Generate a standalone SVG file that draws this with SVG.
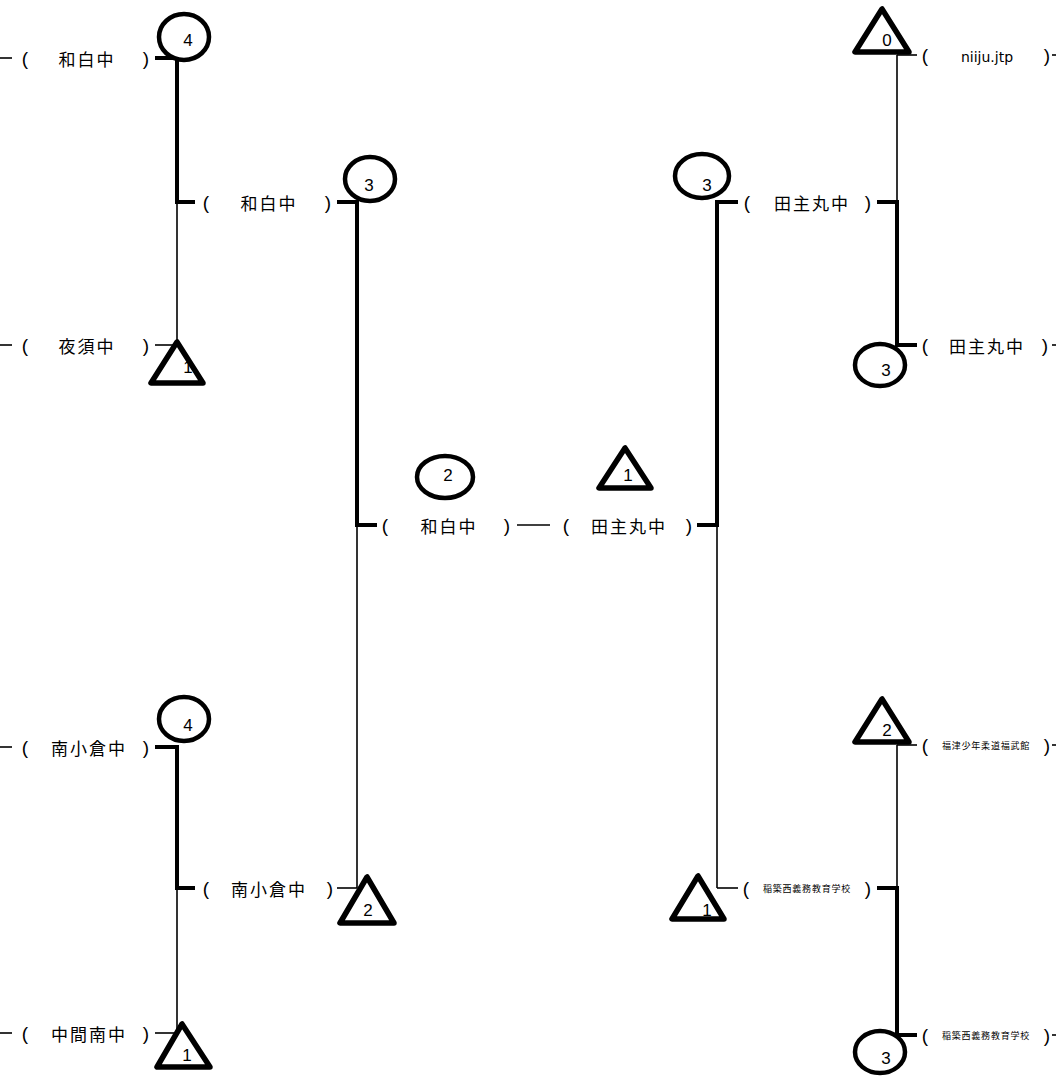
<svg xmlns="http://www.w3.org/2000/svg" width="1056" height="1080" viewBox="0 0 1056 1080">
<style>
.thin{stroke:#000;stroke-width:1.6;fill:none}
.thick{stroke:#000;stroke-width:4;fill:none}
.sh{stroke:#000;stroke-width:4.5;fill:#fff;stroke-linejoin:round}
.tr{stroke:#000;stroke-width:5.5;fill:#fff;stroke-linejoin:round}
.num{font-family:"Liberation Sans",Arial,sans-serif;font-size:17px;fill:#000;text-anchor:middle;dominant-baseline:central}
.par{font-family:"Liberation Sans",Arial,sans-serif;font-size:19px;fill:#000;text-anchor:middle;dominant-baseline:central}
.nm{font-family:"Noto Sans CJK JP",sans-serif;font-size:17px;letter-spacing:2px;fill:#000;text-anchor:middle;dominant-baseline:central}
.en{font-family:"DejaVu Sans","Liberation Sans",sans-serif;font-size:14px;fill:#000;text-anchor:middle;dominant-baseline:central}
.sm{font-family:"Noto Sans CJK JP",sans-serif;font-size:9px;letter-spacing:0.8px;fill:#000;text-anchor:middle;dominant-baseline:central}
</style>
<rect width="1056" height="1080" fill="#fff"/>
<g id="connectors">
<line class="thin" x1="0" y1="58" x2="12" y2="58"/>
<line class="thick" x1="155" y1="58" x2="179" y2="58"/>
<line class="thick" x1="177" y1="56" x2="177" y2="202"/>
<line class="thin" x1="177" y1="202" x2="177" y2="345"/>
<line class="thin" x1="0" y1="345" x2="12" y2="345"/>
<line class="thin" x1="155" y1="345" x2="177" y2="345"/>
<line class="thick" x1="175" y1="202" x2="195" y2="202"/>
<line class="thin" x1="0" y1="747" x2="12" y2="747"/>
<line class="thick" x1="155" y1="747" x2="179" y2="747"/>
<line class="thick" x1="177" y1="745" x2="177" y2="888"/>
<line class="thin" x1="177" y1="888" x2="177" y2="1033"/>
<line class="thin" x1="0" y1="1033" x2="12" y2="1033"/>
<line class="thin" x1="155" y1="1033" x2="177" y2="1033"/>
<line class="thick" x1="175" y1="888" x2="195" y2="888"/>
<line class="thick" x1="337" y1="202" x2="359" y2="202"/>
<line class="thick" x1="357" y1="200" x2="357" y2="525"/>
<line class="thin" x1="357" y1="525" x2="357" y2="888"/>
<line class="thin" x1="337" y1="888" x2="357" y2="888"/>
<line class="thick" x1="355" y1="525" x2="377" y2="525"/>
<line class="thin" x1="517" y1="525" x2="550" y2="525"/>
<line class="thick" x1="697" y1="525" x2="719" y2="525"/>
<line class="thick" x1="717" y1="200" x2="717" y2="525"/>
<line class="thin" x1="717" y1="525" x2="717" y2="888"/>
<line class="thick" x1="715" y1="202" x2="738" y2="202"/>
<line class="thin" x1="717" y1="888" x2="738" y2="888"/>
<line class="thin" x1="897" y1="55" x2="917" y2="55"/>
<line class="thin" x1="897" y1="55" x2="897" y2="202"/>
<line class="thick" x1="897" y1="202" x2="897" y2="347"/>
<line class="thick" x1="877" y1="202" x2="899" y2="202"/>
<line class="thick" x1="895" y1="345" x2="917" y2="345"/>
<line class="thin" x1="1052" y1="55" x2="1056" y2="55"/>
<line class="thin" x1="1052" y1="345" x2="1056" y2="345"/>
<line class="thin" x1="897" y1="745" x2="917" y2="745"/>
<line class="thin" x1="897" y1="745" x2="897" y2="888"/>
<line class="thick" x1="897" y1="888" x2="897" y2="1037"/>
<line class="thick" x1="877" y1="888" x2="899" y2="888"/>
<line class="thick" x1="895" y1="1035" x2="917" y2="1035"/>
<line class="thin" x1="1052" y1="745" x2="1056" y2="745"/>
<line class="thin" x1="1052" y1="1035" x2="1056" y2="1035"/>
</g>
<g id="labels">
<g id="row-l1"><text class="par" x="25" y="58">(</text><text class="nm" x="87" y="58">和白中</text><text class="par" x="146" y="58">)</text></g>
<g id="row-l2"><text class="par" x="206" y="202">(</text><text class="nm" x="269" y="202">和白中</text><text class="par" x="328" y="202">)</text></g>
<g id="row-l3"><text class="par" x="25" y="345">(</text><text class="nm" x="87" y="345">夜須中</text><text class="par" x="146" y="345">)</text></g>
<g id="row-l4"><text class="par" x="25" y="747">(</text><text class="nm" x="89" y="747">南小倉中</text><text class="par" x="146" y="747">)</text></g>
<g id="row-l5"><text class="par" x="206" y="888">(</text><text class="nm" x="269" y="888">南小倉中</text><text class="par" x="330" y="888">)</text></g>
<g id="row-l6"><text class="par" x="25" y="1033">(</text><text class="nm" x="89" y="1033">中間南中</text><text class="par" x="146" y="1033">)</text></g>
<g id="row-c1"><text class="par" x="385" y="525">(</text><text class="nm" x="449" y="525">和白中</text><text class="par" x="507" y="525">)</text></g>
<g id="row-c2"><text class="par" x="566" y="525">(</text><text class="nm" x="629" y="525">田主丸中</text><text class="par" x="689" y="525">)</text></g>
<g id="row-r2"><text class="par" x="747" y="202">(</text><text class="nm" x="812" y="202">田主丸中</text><text class="par" x="868" y="202">)</text></g>
<g id="row-r1"><text class="par" x="925" y="55">(</text><text class="en" x="987" y="57">niiju.jtp</text><text class="par" x="1047" y="55">)</text></g>
<g id="row-r3"><text class="par" x="925" y="345">(</text><text class="nm" x="987" y="345">田主丸中</text><text class="par" x="1045" y="345">)</text></g>
<g id="row-r4"><text class="par" x="925" y="745">(</text><text class="sm" x="986" y="745">福津少年柔道福武館</text><text class="par" x="1047" y="745">)</text></g>
<g id="row-r5"><text class="par" x="746" y="888">(</text><text class="sm" x="807" y="888">稲築西義務教育学校</text><text class="par" x="868" y="888">)</text></g>
<g id="row-r6"><text class="par" x="925" y="1035">(</text><text class="sm" x="986" y="1035">稲築西義務教育学校</text><text class="par" x="1047" y="1035">)</text></g>
</g>
<g id="node-circle-4-top"><ellipse class="sh" cx="184" cy="37" rx="25" ry="23"/><text class="num" x="188" y="40">4</text></g>
<g id="node-circle-3-l2"><ellipse class="sh" cx="370" cy="179" rx="25" ry="22"/><text class="num" x="369" y="185">3</text></g>
<g id="node-tri-1-l3"><polygon class="tr" points="177,342 151,383 203,383"/><text class="num" x="188" y="367">1</text></g>
<g id="node-circle-4-bot"><ellipse class="sh" cx="184" cy="719" rx="25" ry="22"/><text class="num" x="188" y="725">4</text></g>
<g id="node-tri-2-l5"><polygon class="tr" points="367,877 340,923 394,923"/><text class="num" x="368" y="910">2</text></g>
<g id="node-tri-1-l6"><polygon class="tr" points="182,1024 157,1067 210,1067"/><text class="num" x="187" y="1055">1</text></g>
<g id="node-circle-2-c"><ellipse class="sh" cx="445" cy="477" rx="28" ry="21"/><text class="num" x="448" y="475">2</text></g>
<g id="node-tri-1-c"><polygon class="tr" points="625,448 599,488 651,488"/><text class="num" x="628" y="475">1</text></g>
<g id="node-circle-3-r2"><ellipse class="sh" cx="702" cy="176" rx="27" ry="22"/><text class="num" x="707" y="185">3</text></g>
<g id="node-tri-0-r1"><polygon class="tr" points="882,9 855,52 909,52"/><text class="num" x="887" y="40">0</text></g>
<g id="node-circle-3-r3"><ellipse class="sh" cx="880" cy="365" rx="25" ry="21"/><text class="num" x="886" y="370">3</text></g>
<g id="node-tri-2-r4"><polygon class="tr" points="882,699 855,742 909,742"/><text class="num" x="887" y="730">2</text></g>
<g id="node-tri-1-r5"><polygon class="tr" points="698,876 672,919 724,919"/><text class="num" x="707" y="910">1</text></g>
<g id="node-circle-3-r6"><ellipse class="sh" cx="880" cy="1052" rx="25" ry="21"/><text class="num" x="886" y="1058">3</text></g>
</svg>
